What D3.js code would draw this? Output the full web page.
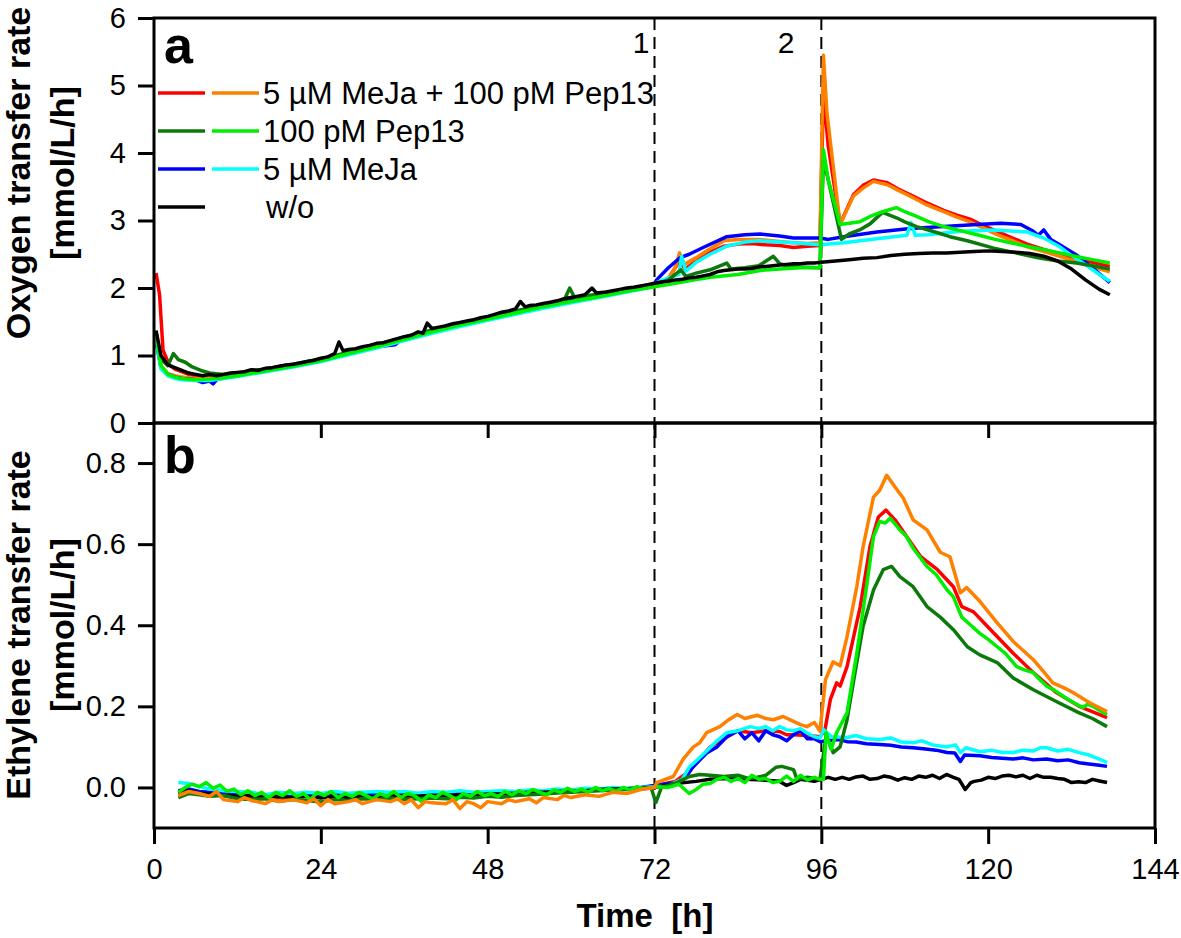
<!DOCTYPE html>
<html><head><meta charset="utf-8">
<script src="https://cdn.jsdelivr.net/npm/d3@7"></script>
<style>
body{margin:0;background:#fff}
text{font-family:Arial,"Liberation Sans",sans-serif;fill:#000}
</style>
</head><body>
<svg id="c" width="1181" height="938"></svg>
<script>
// ---------- axis ticks & labels ----------
const xTicks = [0, 24, 48, 72, 96, 120, 144];
const otrTicks = [0, 1, 2, 3, 4, 5, 6];
const ethTicks = [0, 0.2, 0.4, 0.6, 0.8];
const legendLabels = ["5 µM MeJa + 100 pM Pep13", "100 pM Pep13", "5 µM MeJa", "w/o"];
const eventTimes = [72, 96];
const eventLabels = ["1", "2"];

// ---------- panel a: oxygen transfer rate [t (h), OTR] ----------
const otrRed = [[0.3,2.22],[0.8,1.9],[1.3,1.08],[2.2,0.86],[3,0.8],[4,0.76],[5,0.72],[6,0.7],[8,0.68],[10,0.7],[12,0.73],[14,0.76],[16,0.79],[18,0.83],[20,0.86],[22,0.9],[24,0.93],[26,0.98],[28,1.03],[30,1.08],[32,1.13],[34,1.18],[36,1.24],[38,1.3],[40,1.35],[42,1.4],[44,1.45],[46,1.5],[48,1.55],[50,1.6],[52,1.64],[54,1.69],[56,1.73],[58,1.77],[60,1.81],[62,1.85],[64,1.88],[66,1.92],[68,1.96],[70,2.0],[72,2.05],[74,2.14],[75.6,2.4],[76.4,2.28],[78,2.4],[80,2.53],[82,2.62],[84,2.65],[86,2.66],[88,2.64],[90,2.63],[92,2.6],[94,2.62],[95.8,2.63],[96.3,4.9],[97,4.1],[98.7,2.95],[100.6,3.38],[102,3.52],[103.5,3.6],[105.5,3.56],[107,3.47],[108.8,3.38],[111,3.27],[113.6,3.15],[115.5,3.08],[117.4,3.02],[119,2.94],[121.3,2.84],[123.5,2.74],[125.6,2.65],[128,2.57],[130.3,2.5],[132.5,2.44],[135,2.38],[137.5,2.32]];
const otrOrange = [[0.3,1.3],[1,0.85],[2,0.73],[3,0.7],[4,0.68],[6,0.66],[8,0.66],[10,0.68],[12,0.71],[16,0.78],[20,0.85],[24,0.93],[28,1.03],[32,1.13],[36,1.23],[40,1.34],[44,1.44],[48,1.53],[52,1.62],[56,1.71],[60,1.8],[64,1.88],[68,1.96],[72,2.05],[74,2.15],[75,2.3],[75.6,2.52],[76.3,2.35],[78,2.45],[80,2.58],[82,2.7],[84,2.72],[87,2.72],[90,2.69],[92,2.67],[94,2.66],[95.8,2.67],[96.3,5.45],[96.8,4.6],[98.7,2.94],[100.6,3.36],[102,3.48],[103.5,3.58],[105.5,3.53],[107,3.45],[108.8,3.36],[111,3.24],[113.6,3.13],[115.5,3.05],[117.4,2.98],[119.5,2.88],[121.3,2.79],[123.5,2.7],[125.6,2.61],[128,2.54],[130.3,2.47],[133,2.38],[135,2.31],[137.5,2.24]];
const otrDarkGreen = [[0.3,1.32],[1,0.95],[2,0.85],[2.8,1.03],[3.5,0.94],[4.5,0.9],[5.5,0.83],[7,0.77],[8,0.74],[10,0.72],[12,0.74],[16,0.8],[20,0.87],[24,0.95],[28,1.05],[32,1.16],[36,1.27],[40,1.38],[44,1.48],[48,1.57],[52,1.66],[56,1.75],[59,1.82],[59.8,2.0],[60.5,1.86],[64,1.91],[68,1.98],[72,2.05],[74,2.12],[75.8,2.27],[76.5,2.17],[78,2.22],[80,2.27],[82.4,2.37],[83,2.28],[85,2.3],[87,2.33],[89.1,2.47],[90,2.36],[91,2.33],[93,2.31],[95.8,2.3],[96.3,3.9],[97,3.6],[98.9,2.72],[100,2.8],[101.5,2.86],[103,2.95],[104.8,3.12],[106.8,3.04],[108,2.98],[109.7,2.91],[112,2.84],[114.5,2.76],[117,2.7],[120.8,2.59],[124,2.52],[127,2.45],[130,2.4],[132.7,2.37],[135,2.33],[137.5,2.28]];
const otrLightGreen = [[0.3,1.3],[1,0.85],[2,0.72],[3,0.68],[4,0.66],[6,0.64],[8,0.65],[10,0.67],[12,0.7],[16,0.77],[20,0.84],[24,0.92],[28,1.03],[32,1.13],[36,1.24],[40,1.35],[44,1.45],[48,1.54],[52,1.63],[56,1.72],[60,1.8],[64,1.87],[68,1.95],[72,2.02],[74,2.05],[77.8,2.12],[80,2.16],[84,2.2],[87.2,2.26],[90,2.28],[93,2.3],[95.8,2.3],[96.3,4.05],[97,3.6],[98.7,2.94],[100,2.96],[101.5,2.98],[103,3.06],[104.8,3.13],[106.8,3.19],[108,3.13],[109.7,3.06],[111.5,2.98],[113.6,2.91],[116,2.85],[118.4,2.79],[121,2.72],[123.2,2.67],[127,2.59],[130.3,2.52],[133,2.46],[135,2.42],[137.5,2.37]];
const otrBlue = [[0.3,1.2],[1,0.82],[2,0.72],[3,0.68],[4,0.66],[6,0.64],[7,0.6],[8,0.62],[8.5,0.58],[9,0.64],[10,0.67],[12,0.71],[16,0.78],[20,0.85],[24,0.93],[28,1.03],[32,1.13],[34.7,1.16],[35.5,1.23],[36,1.25],[40,1.36],[44,1.46],[48,1.55],[52,1.64],[56,1.73],[60,1.81],[64,1.89],[68,1.97],[72,2.06],[72.3,2.12],[74,2.3],[75.7,2.45],[77,2.5],[79,2.6],[82.4,2.76],[85,2.79],[87.2,2.8],[90,2.77],[92,2.74],[95.8,2.74],[97,2.72],[99.2,2.76],[104,2.83],[108.8,2.88],[113.6,2.91],[118.4,2.94],[121.8,2.96],[124.7,2.94],[126.5,2.84],[127.2,2.78],[128,2.86],[129,2.72],[130.3,2.64],[132.7,2.49],[135,2.3],[137.5,2.08]];
const otrCyan = [[0.3,1.25],[1,0.8],[2,0.7],[3,0.66],[4,0.64],[6,0.63],[8,0.63],[10,0.66],[12,0.69],[16,0.76],[20,0.83],[24,0.91],[28,1.01],[32,1.11],[36,1.22],[40,1.33],[44,1.43],[48,1.52],[52,1.61],[56,1.7],[60,1.78],[64,1.86],[68,1.94],[72,2.02],[72.3,2.08],[74,2.15],[75.5,2.2],[75.9,2.47],[76.5,2.25],[78,2.38],[80,2.5],[82.4,2.62],[85,2.68],[87,2.7],[90,2.68],[92,2.67],[95.8,2.64],[99.2,2.67],[104,2.73],[108.3,2.78],[108.9,2.97],[109.5,2.78],[111.3,2.79],[116,2.84],[120.8,2.86],[125.6,2.83],[128,2.74],[130.3,2.61],[132,2.48],[134.1,2.34],[136,2.2],[137.5,2.1]];
const otrBlack = [[0.3,1.37],[1,1.0],[2,0.86],[3,0.82],[4,0.78],[5,0.74],[6,0.72],[7,0.7],[8,0.72],[9,0.7],[10,0.72],[11,0.74],[12,0.75],[13,0.76],[14,0.79],[15,0.78],[16,0.81],[17,0.82],[18,0.84],[19,0.86],[20,0.87],[21,0.89],[22,0.91],[23,0.93],[24,0.96],[25,0.98],[26,1.03],[26.6,1.2],[27.2,1.07],[28,1.09],[29,1.1],[30,1.13],[31,1.15],[32,1.18],[33,1.19],[34,1.22],[35,1.25],[36,1.28],[37,1.3],[38,1.35],[38.7,1.33],[39.3,1.48],[40,1.4],[41,1.42],[42,1.44],[43,1.47],[44,1.49],[45,1.51],[46,1.53],[47,1.56],[48,1.58],[49,1.61],[50,1.64],[51,1.66],[52,1.69],[52.7,1.8],[53.4,1.72],[54,1.74],[55,1.75],[56,1.77],[57,1.79],[58,1.81],[59,1.84],[60,1.86],[61,1.88],[62,1.9],[63,2.0],[63.7,1.92],[64,1.93],[65,1.94],[66,1.96],[67,1.98],[68,2.0],[69,2.01],[70,2.03],[71,2.05],[72,2.07],[73,2.09],[74,2.1],[75,2.12],[76,2.13],[77,2.15],[78,2.16],[79,2.18],[80,2.2],[81,2.24],[82,2.26],[83,2.27],[84,2.28],[85,2.28],[86,2.29],[87,2.31],[88,2.32],[89,2.33],[90,2.34],[91,2.35],[92,2.36],[93,2.36],[94,2.37],[95,2.37],[96,2.38],[98,2.4],[100,2.42],[102,2.44],[104,2.45],[106,2.48],[108,2.5],[110,2.51],[112,2.52],[114,2.52],[116,2.53],[118,2.54],[120,2.55],[122,2.54],[124,2.53],[126,2.51],[128,2.47],[130,2.4],[132,2.28],[134,2.12],[136,1.98],[137.5,1.9]];

// ---------- panel b: ethylene transfer rate [t (h), ETR] ----------
const ethRed = [[3.5,-0.015],[6,-0.012],[8,-0.018],[10,-0.02],[14,-0.022],[18,-0.024],[22,-0.022],[26,-0.024],[30,-0.022],[34,-0.022],[38,-0.022],[42,-0.02],[46,-0.02],[50,-0.016],[54,-0.014],[58,-0.01],[62,-0.008],[66,-0.004],[70,-0.002],[72.3,0.005],[75,0.015],[77,0.04],[78.5,0.07],[80,0.1],[82,0.12],[84,0.14],[86,0.135],[88,0.14],[90,0.138],[91,0.13],[92,0.13],[94,0.128],[95.8,0.125],[96.5,0.14],[97.3,0.217],[98.2,0.258],[98.7,0.25],[99.7,0.298],[101.6,0.446],[103,0.594],[104.2,0.667],[105.3,0.684],[106.6,0.66],[108.3,0.618],[110.3,0.569],[112.7,0.537],[115,0.495],[116.2,0.446],[117.9,0.433],[120.8,0.381],[123.6,0.331],[126.5,0.283],[129.8,0.234],[133.1,0.2],[137.1,0.172]];
const ethOrange = [[3.5,-0.02],[5,-0.01],[6.5,-0.015],[8,-0.022],[9,-0.01],[10,-0.03],[12,-0.035],[13,-0.025],[14,-0.032],[16,-0.04],[17,-0.03],[18,-0.035],[20,-0.03],[22,-0.038],[23,-0.028],[24,-0.045],[25,-0.03],[26,-0.04],[28,-0.035],[29,-0.03],[30,-0.04],[32,-0.03],[34,-0.035],[35,-0.028],[36,-0.04],[37,-0.03],[38,-0.05],[39,-0.035],[40,-0.038],[42,-0.04],[43,-0.03],[44,-0.052],[45,-0.035],[46,-0.04],[47,-0.05],[48,-0.035],[50,-0.04],[51,-0.03],[52,-0.035],[54,-0.028],[55,-0.038],[56,-0.025],[58,-0.03],[59,-0.02],[60,-0.025],[62,-0.018],[64,-0.022],[66,-0.012],[68,-0.015],[70,-0.005],[72,0.0],[72.3,0.012],[74.7,0.027],[76.1,0.069],[77.6,0.1],[78.5,0.11],[79.5,0.135],[81.4,0.15],[82.5,0.165],[83.9,0.18],[85,0.17],[86.8,0.178],[88,0.17],[89.1,0.167],[90.5,0.175],[92,0.163],[93,0.155],[93.9,0.15],[95,0.16],[95.8,0.139],[96.6,0.266],[97.7,0.31],[98.7,0.3],[99.7,0.372],[101.1,0.495],[102,0.593],[103.5,0.716],[104.4,0.733],[105.4,0.77],[106.6,0.741],[107.8,0.713],[109.2,0.66],[111.2,0.635],[113.1,0.58],[114.5,0.569],[116,0.48],[116.9,0.493],[118.8,0.459],[121.3,0.406],[123.6,0.36],[126.5,0.315],[128,0.285],[129.3,0.258],[131,0.245],[132.2,0.234],[134.6,0.209],[137.1,0.187]];
const ethDarkGreen = [[3.5,-0.025],[5,-0.015],[6.5,-0.018],[8,-0.022],[10,-0.02],[12,-0.028],[14,-0.03],[16,-0.028],[18,-0.034],[20,-0.03],[22,-0.032],[24,-0.036],[26,-0.03],[28,-0.032],[30,-0.028],[32,-0.03],[34,-0.026],[36,-0.03],[38,-0.028],[40,-0.026],[42,-0.028],[44,-0.024],[46,-0.026],[48,-0.022],[50,-0.024],[52,-0.02],[54,-0.018],[56,-0.016],[58,-0.014],[60,-0.012],[62,-0.01],[64,-0.008],[66,-0.006],[68,-0.005],[70,-0.002],[71.5,0.0],[72.2,-0.037],[73,0.0],[75,0.01],[77,0.027],[78.5,0.032],[80,0.03],[82,0.027],[84,0.03],[85.5,0.022],[86.8,0.025],[88,0.03],[89.5,0.05],[90.3,0.052],[92,0.044],[92.5,0.02],[94,0.025],[95.8,0.02],[96.7,0.13],[97.7,0.086],[98.7,0.1],[99.7,0.167],[100.6,0.258],[102,0.397],[103.5,0.487],[104.9,0.537],[106.1,0.545],[107.3,0.52],[109.2,0.495],[111.2,0.446],[113.1,0.42],[115,0.389],[117,0.347],[118.8,0.327],[121.3,0.308],[123.6,0.27],[126.5,0.241],[129.8,0.212],[133.1,0.184],[135,0.17],[137.1,0.15]];
const ethLightGreen = [[3.5,-0.012],[4.5,0.0],[5.5,0.008],[6.5,0.002],[7.5,0.012],[8.5,-0.002],[9.5,0.006],[10.5,-0.01],[11.5,-0.004],[12.5,-0.018],[13.5,-0.008],[14.5,-0.02],[15.5,-0.012],[16.5,-0.025],[17.5,-0.012],[18.5,-0.02],[19.5,-0.008],[20.5,-0.022],[21.5,-0.015],[22.5,-0.03],[23.5,-0.012],[24.5,-0.02],[25.5,-0.01],[26.5,-0.025],[27.5,-0.015],[28.5,-0.022],[29.5,-0.012],[30.5,-0.02],[31.5,-0.028],[32.5,-0.015],[33.5,-0.022],[34.5,-0.01],[35.5,-0.025],[36.5,-0.015],[37.5,-0.02],[38.5,-0.035],[39.5,-0.018],[40.5,-0.025],[41.5,-0.012],[42.5,-0.02],[43.5,-0.03],[44.5,-0.015],[45.5,-0.022],[46.5,-0.01],[47.5,-0.02],[48.5,-0.015],[49.5,-0.022],[50.5,-0.01],[51.5,-0.018],[52.5,-0.008],[53.5,-0.015],[54.5,-0.005],[55.5,-0.012],[56.5,-0.018],[57.5,-0.006],[58.5,-0.012],[59.5,-0.002],[60.5,-0.01],[61.5,-0.004],[62.5,-0.012],[63.5,0.0],[64.5,-0.008],[65.5,-0.003],[66.5,-0.01],[67.5,0.0],[68.5,-0.006],[69.5,0.002],[70.5,-0.004],[71.5,0.0],[72.5,0.002],[74,0.0],[75.5,0.008],[77,-0.015],[78,-0.005],[79,0.008],[80,0.01],[81,0.02],[82,0.025],[83,0.015],[84,0.022],[85,0.012],[86,0.03],[87,0.02],[88,0.022],[89,0.012],[90,0.015],[91,0.028],[92,0.015],[93,0.03],[94,0.018],[95,0.025],[95.8,0.02],[96.3,0.02],[96.7,0.135],[97.4,0.094],[98.2,0.135],[99.7,0.184],[101.1,0.331],[102.5,0.495],[103.5,0.618],[104.4,0.656],[105.2,0.652],[105.9,0.664],[107.3,0.635],[108.2,0.62],[109.2,0.59],[111.2,0.545],[112.5,0.525],[114.1,0.487],[115,0.47],[116.2,0.42],[117.5,0.4],[118.8,0.38],[120,0.365],[121.3,0.347],[122.5,0.33],[124.1,0.298],[125.2,0.29],[126.5,0.283],[127.3,0.268],[128.4,0.25],[129.5,0.24],[130.8,0.225],[132,0.212],[133.6,0.197],[134.3,0.205],[135.1,0.2],[136,0.19],[137.1,0.18]];
const ethBlue = [[3.5,-0.008],[5,-0.004],[6.5,-0.01],[8,-0.012],[10,-0.015],[12,-0.018],[14,-0.016],[16,-0.02],[18,-0.018],[20,-0.02],[22,-0.016],[24,-0.02],[26,-0.017],[28,-0.02],[30,-0.016],[32,-0.018],[34,-0.02],[36,-0.016],[38,-0.02],[40,-0.017],[42,-0.018],[44,-0.014],[46,-0.016],[48,-0.014],[50,-0.012],[52,-0.013],[54,-0.01],[56,-0.01],[58,-0.008],[60,-0.008],[62,-0.005],[64,-0.006],[66,-0.003],[68,-0.004],[70,0.0],[72,0.005],[74,0.01],[75.5,0.012],[76.5,0.025],[77.5,0.05],[79.5,0.085],[81,0.1],[82.4,0.125],[84,0.14],[85,0.12],[86,0.135],[87,0.115],[88,0.14],[89,0.13],[90,0.125],[91,0.115],[92,0.13],[93,0.14],[94,0.12],[95,0.12],[95.8,0.113],[97,0.115],[98.5,0.118],[99.7,0.113],[101,0.112],[102.5,0.108],[104.4,0.106],[106,0.104],[107.5,0.1],[109.2,0.098],[111,0.095],[112.5,0.092],[114.1,0.086],[115.2,0.085],[116,0.064],[116.6,0.08],[118.8,0.078],[120.5,0.074],[122,0.072],[123.6,0.07],[125,0.073],[126.5,0.068],[128.4,0.07],[130,0.066],[131.5,0.068],[133.1,0.061],[134.5,0.058],[136,0.055],[137.1,0.052]];
const ethCyan = [[3.5,0.012],[5,0.01],[6.5,0.002],[8,-0.004],[10,-0.008],[12,-0.01],[14,-0.012],[16,-0.018],[18,-0.012],[20,-0.015],[22,-0.012],[24,-0.015],[26,-0.01],[28,-0.014],[30,-0.012],[32,-0.01],[34,-0.012],[36,-0.01],[38,-0.014],[40,-0.01],[42,-0.012],[44,-0.008],[46,-0.012],[48,-0.01],[50,-0.008],[52,-0.01],[54,-0.006],[56,-0.008],[58,-0.004],[60,-0.006],[62,-0.002],[64,-0.004],[66,0.0],[68,-0.002],[70,0.0],[72,0.002],[74,0.005],[76,0.02],[77,0.05],[78.3,0.07],[79.5,0.09],[81,0.115],[82.4,0.135],[84,0.14],[85.8,0.15],[87,0.145],[88,0.15],[89,0.14],[90,0.15],[91,0.142],[92,0.14],[93,0.145],[93.9,0.135],[95,0.125],[95.8,0.122],[96.3,0.143],[97.5,0.125],[99.7,0.123],[101,0.128],[102.5,0.12],[104.4,0.118],[106,0.122],[107.5,0.112],[109.2,0.11],[110.5,0.115],[112,0.105],[114.1,0.1],[115.3,0.105],[116,0.086],[116.8,0.098],[118.8,0.088],[120.5,0.092],[122,0.086],[123.6,0.086],[125,0.092],[126.5,0.09],[127.5,0.098],[128.4,0.098],[130,0.09],[131.5,0.094],[133.1,0.086],[134.5,0.08],[136,0.07],[137.1,0.062]];
const ethBlack = [[3.5,-0.012],[5,-0.008],[6.5,-0.014],[8,-0.016],[10,-0.02],[12,-0.022],[14,-0.02],[16,-0.024],[18,-0.022],[20,-0.025],[22,-0.022],[24,-0.026],[26,-0.022],[28,-0.025],[30,-0.02],[32,-0.024],[34,-0.022],[36,-0.02],[38,-0.022],[40,-0.02],[42,-0.02],[44,-0.018],[46,-0.02],[48,-0.016],[50,-0.016],[52,-0.014],[54,-0.012],[56,-0.012],[58,-0.01],[60,-0.008],[62,-0.008],[64,-0.005],[66,-0.004],[68,-0.003],[70,-0.002],[72,0.0],[75,0.01],[78,0.015],[80,0.02],[82,0.022],[85,0.02],[88,0.018],[90,0.015],[91,0.005],[92,0.012],[93,0.02],[95,0.015],[96,0.02],[97,0.025],[98,0.02],[99,0.025],[100,0.02],[101,0.026],[102,0.028],[103,0.02],[104,0.022],[105,0.028],[106,0.025],[107,0.018],[108,0.024],[109,0.02],[110,0.028],[111,0.025],[112,0.03],[113,0.022],[114,0.032],[115,0.025],[115.8,0.02],[116.7,-0.005],[117.5,0.012],[118,0.015],[119,0.018],[120,0.025],[121,0.022],[122,0.028],[123,0.03],[124,0.026],[125,0.03],[126,0.022],[127,0.03],[128,0.025],[129,0.025],[130,0.022],[131,0.02],[132,0.012],[133,0.014],[134,0.012],[135,0.02],[136,0.016],[137.1,0.012]];

// ---------- styling (separate from data) ----------
const C = {red:"#ff0000", orange:"#ff8000", dkgreen:"#0b7a0b", ltgreen:"#00ee00", blue:"#0000ff", cyan:"#00ffff", black:"#000000"};
const otrSeries = [[otrRed,C.red],[otrOrange,C.orange],[otrBlue,C.blue],[otrCyan,C.cyan],[otrDarkGreen,C.dkgreen],[otrLightGreen,C.ltgreen],[otrBlack,C.black]];
const ethSeries = [[ethRed,C.red],[ethBlue,C.blue],[ethCyan,C.cyan],[ethBlack,C.black],[ethDarkGreen,C.dkgreen],[ethLightGreen,C.ltgreen],[ethOrange,C.orange]];
const legendColors = [[C.red,C.orange],[C.dkgreen,C.ltgreen],[C.blue,C.cyan],[C.black]];

const svg = d3.select("#c");
const L = 154, R = 1155, TA = 18, BA = 423, BB = 828;
const x = d3.scaleLinear().domain([0,144]).range([L,R]);
const yA = d3.scaleLinear().domain([0,6]).range([BA,TA]);
const yB = d3.scaleLinear().domain([-0.1,0.9]).range([BB,422.5]);

const defs = svg.append("defs");
defs.append("clipPath").attr("id","clipA").append("rect").attr("x",L).attr("y",TA).attr("width",R-L).attr("height",BA-TA);
defs.append("clipPath").attr("id","clipB").append("rect").attr("x",L).attr("y",BA).attr("width",R-L).attr("height",BB-BA);

// event dashed lines
svg.append("g").selectAll("line").data(eventTimes).join("line")
  .attr("x1",d=>x(d)).attr("x2",d=>x(d)).attr("y1",TA).attr("y2",BB)
  .attr("stroke","#000").attr("stroke-width",2).attr("stroke-dasharray","12,7");

function drawLines(series, y, clip){
  const line = d3.line().x(d=>x(d[0])).y(d=>y(d[1]));
  const g = svg.append("g").attr("clip-path",`url(#${clip})`);
  series.forEach(([data,col])=>{
    g.append("path").datum(data).attr("d",line).attr("fill","none")
      .attr("stroke",col).attr("stroke-width",3.5).attr("stroke-linejoin","round");
  });
}
drawLines(otrSeries, yA, "clipA");
drawLines(ethSeries, yB, "clipB");

// frames
svg.append("rect").attr("x",L).attr("y",TA).attr("width",R-L).attr("height",BA-TA).attr("fill","none").attr("stroke","#000").attr("stroke-width",3);
svg.append("rect").attr("x",L).attr("y",BA).attr("width",R-L).attr("height",BB-BA).attr("fill","none").attr("stroke","#000").attr("stroke-width",3);

function styleAxis(g, fs){
  g.select(".domain").remove();
  g.selectAll(".tick line").attr("stroke","#000").attr("stroke-width",3);
  g.selectAll(".tick text").attr("font-size",fs).attr("fill","#000").attr("font-family","Arial, 'Liberation Sans', sans-serif");
}
styleAxis(svg.append("g").attr("transform",`translate(${L},0)`)
  .call(d3.axisLeft(yA).tickValues(otrTicks).tickSize(16).tickPadding(12).tickSizeOuter(0).tickFormat(d3.format("d"))), 29);
styleAxis(svg.append("g").attr("transform",`translate(${L},0)`)
  .call(d3.axisLeft(yB).tickValues(ethTicks).tickSize(16).tickPadding(12).tickSizeOuter(0).tickFormat(d3.format(".1f"))), 29);
styleAxis(svg.append("g").attr("transform",`translate(0,${BB})`)
  .call(d3.axisBottom(x).tickValues(xTicks).tickSize(16).tickPadding(14).tickSizeOuter(0)), 29);
styleAxis(svg.append("g").attr("transform",`translate(0,${BA})`)
  .call(d3.axisBottom(x).tickValues(xTicks.slice(1,-1)).tickSize(15).tickFormat("").tickSizeOuter(0)), 29);

// event labels
svg.append("g").selectAll("text").data(eventTimes).join("text")
  .attr("x",(d,i)=>x(d)-(i===0?5:27)).attr("y",53).attr("text-anchor","end")
  .attr("font-size",30).text((d,i)=>eventLabels[i]);

// panel letters
svg.append("text").attr("x",164).attr("y",63).attr("font-size",52).attr("font-weight","bold").text("a");
svg.append("text").attr("x",164).attr("y",473).attr("font-size",52).attr("font-weight","bold").text("b");

// legend
const lg = svg.append("g");
legendLabels.forEach((lab,i)=>{
  const yy = 93 + i*38;
  legendColors[i].forEach((col,j)=>{
    lg.append("line").attr("x1",158+j*54).attr("x2",205+j*54).attr("y1",yy).attr("y2",yy)
      .attr("stroke",col).attr("stroke-width",3.5);
  });
  lg.append("text").attr("x", i===3?266:263).attr("y",yy).attr("dy","0.36em")
    .attr("font-size",31).text(lab);
});

// axis titles
function yTitle(cx, cy, l1, l2){
  const g = svg.append("g").attr("transform",`translate(0,${cy})`);
  g.append("text").attr("transform",`translate(${cx},0) rotate(-90)`).attr("text-anchor","middle")
    .attr("font-size",34).attr("font-weight","bold").text(l1);
  g.append("text").attr("transform",`translate(${cx+44},0) rotate(-90)`).attr("text-anchor","middle")
    .attr("font-size",34).attr("font-weight","bold").text(l2);
}
yTitle(30, 173, "Oxygen transfer rate", "[mmol/L/h]");
yTitle(30, 625, "Ethylene transfer rate", "[mmol/L/h]");

svg.append("text").attr("x",645).attr("y",927).attr("text-anchor","middle")
  .attr("font-size",33).attr("font-weight","bold").attr("xml:space","preserve")
  .style("white-space","pre").text("Time  [h]");
</script>
</body></html>
